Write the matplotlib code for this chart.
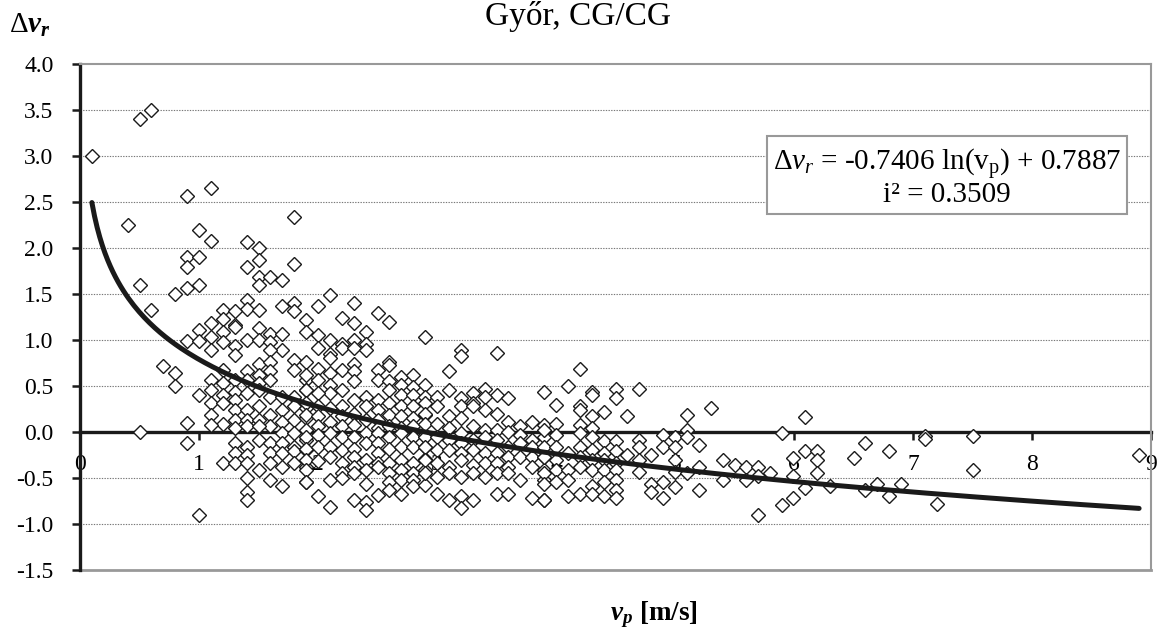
import numpy as np
import matplotlib
matplotlib.use("Agg")
import matplotlib.pyplot as plt

plt.rcParams['font.family'] = ['Liberation Serif', 'DejaVu Serif']
plt.rcParams['mathtext.fontset'] = 'custom'
plt.rcParams['mathtext.rm'] = 'Liberation Serif'
plt.rcParams['mathtext.it'] = 'Liberation Serif:italic'
plt.rcParams['mathtext.bf'] = 'Liberation Serif:bold'
plt.rcParams['mathtext.bfit'] = 'Liberation Serif:italic:bold'

# ---------------- data ----------------
vp_low = [0.10, 0.50, 0.60, 0.40, 0.90, 1.10, 1.80, 1.00, 1.10, 1.40,
          1.50, 1.50, 1.40, 0.90, 1.00, 0.90, 1.80, 0.50, 0.80, 0.90,
          1.00, 1.50, 1.60, 1.70, 1.50, 0.60, 1.40, 1.40, 1.50, 1.20,
          1.30, 1.70, 1.80, 1.80, 2.10, 2.00, 1.90, 1.10, 1.20, 1.30,
          0.50, 0.70, 0.80, 0.80, 1.00]
dvr_low = [3.00, 3.40, 3.50, 2.25, 2.56, 2.65, 2.34, 2.20, 2.08, 2.07,
           2.00, 1.87, 1.79, 1.90, 1.90, 1.79, 1.83, 1.60, 1.50, 1.56,
           1.60, 1.69, 1.69, 1.65, 1.60, 1.33, 1.44, 1.34, 1.33, 1.33,
           1.32, 1.37, 1.40, 1.32, 1.49, 1.37, 1.22, 1.18, 1.23, 1.16,
           0.00, 0.72, 0.64, 0.50, -0.90]

vp_a = [1.00, 1.20, 1.30, 1.50, 1.60, 1.70, 1.90,
        0.90, 1.00, 1.10, 1.20, 1.30, 1.40, 1.50, 1.60, 1.70, 1.60, 1.10, 1.30,
        1.80, 1.50, 1.60, 1.80, 1.40, 1.20, 1.50, 1.60,
        1.10, 1.20, 1.30, 1.40, 1.50, 1.60, 1.90, 1.00, 1.10, 1.20, 1.30, 1.40, 1.50, 1.60, 1.70, 1.80, 1.90,
        1.10, 1.20, 1.30, 1.30, 1.40, 1.50, 1.60, 1.70, 1.80, 1.90, 1.10, 1.20, 1.30, 1.40, 1.50, 1.60, 1.70, 1.80, 1.90,
        0.90, 1.10, 1.30, 1.40, 1.50, 1.70, 1.80, 1.90,
        0.90, 1.30, 1.40, 1.50, 1.60, 1.70, 1.80, 1.90, 1.30, 1.40, 1.60, 1.70, 1.80, 1.90,
        1.20, 1.30, 1.40, 1.50, 1.60, 1.70, 1.80, 1.90,
        1.40, 1.60, 1.70, 1.90, 1.40, 1.40]
dvr_a = [1.11, 1.09, 1.14, 1.13, 1.07, 1.07, 1.09,
         0.99, 0.99, 1.03, 0.98, 0.93, 1.00, 1.00, 0.98, 0.89, 0.89, 0.89, 0.84,
         0.78, 0.74, 0.76, 0.67, 0.66, 0.67, 0.62, 0.66,
         0.56, 0.53, 0.56, 0.56, 0.53, 0.56, 0.56, 0.40, 0.46, 0.40, 0.44, 0.42, 0.46, 0.38, 0.38, 0.38, 0.46,
         0.31, 0.31, 0.35, 0.24, 0.24, 0.28, 0.19, 0.24, 0.28, 0.26, 0.19, 0.09, 0.13, 0.13, 0.13, 0.06, 0.11, 0.13, 0.15,
         0.10, 0.08, 0.04, 0.06, 0.06, -0.01, -0.01, 0.02,
         -0.12, -0.12, -0.16, -0.09, -0.12, -0.12, -0.16, -0.09, -0.23, -0.25, -0.23, -0.23, -0.21, -0.20,
         -0.34, -0.34, -0.34, -0.41, -0.34, -0.38, -0.34, -0.38,
         -0.50, -0.52, -0.59, -0.54, -0.65, -0.74]

vp_b = [2.30, 2.50, 2.60, 2.20, 2.30, 2.40,
        2.00, 2.10, 2.20, 2.30, 2.40, 2.90, 2.00, 2.10, 2.20, 2.30, 2.40,
        1.90, 2.10, 2.00, 2.20, 2.30, 2.30, 2.50, 2.60, 2.60, 2.70, 2.80, 1.90, 2.10,
        2.00, 2.10, 2.20, 2.30, 2.50, 2.60, 2.70, 2.80, 2.90, 1.90, 2.10, 2.00, 2.30, 2.40, 2.50, 2.60, 2.70, 2.80, 2.90,
        1.90, 2.00, 2.10, 2.20, 2.40, 2.50, 2.60, 2.70, 2.80, 2.90, 1.90, 2.00, 2.10, 2.20, 2.30, 2.40, 2.50, 2.60, 2.70, 2.80, 2.90,
        2.00, 2.20, 2.30, 2.50, 2.60, 2.70, 2.80,
        1.90, 2.00, 2.10, 2.20, 2.30, 2.40, 2.50, 2.60, 2.70, 2.80, 2.90, 1.90, 2.00, 2.10, 2.20, 2.30, 2.40, 2.50, 2.60, 2.70, 2.80, 2.90, 2.50, 2.30,
        1.90, 2.10, 2.00, 2.20, 2.30, 2.40, 2.50, 2.60, 2.70, 2.80, 2.90, 1.90, 2.20, 2.30, 2.40, 2.50, 2.60, 2.70, 2.80, 2.90,
        1.90, 2.10, 2.20, 2.40, 2.60, 2.70, 2.80,
        2.00, 2.10, 2.30, 2.40, 2.40, 2.50, 2.60, 2.70, 2.80, 2.90]
dvr_b = [1.40, 1.29, 1.20, 1.24, 1.18, 1.09,
         1.05, 1.00, 0.96, 1.00, 0.96, 1.03, 0.91, 0.85, 0.91, 0.91, 0.89,
         0.76, 0.80, 0.69, 0.67, 0.74, 0.66, 0.67, 0.76, 0.73, 0.60, 0.62, 0.62, 0.64,
         0.56, 0.51, 0.46, 0.55, 0.56, 0.55, 0.51, 0.49, 0.51, 0.46, 0.42, 0.42, 0.35, 0.38, 0.35, 0.46, 0.40, 0.40, 0.38,
         0.31, 0.28, 0.26, 0.28, 0.28, 0.24, 0.31, 0.28, 0.28, 0.31, 0.19, 0.17, 0.11, 0.17, 0.20, 0.13, 0.13, 0.19, 0.17, 0.15, 0.19,
         0.06, 0.06, 0.08, 0.04, 0.06, 0.04, 0.06,
         -0.05, -0.03, -0.01, -0.05, -0.05, -0.01, -0.01, -0.05, -0.01, -0.05, -0.03, -0.18, -0.16, -0.16, -0.20, -0.18, -0.12, -0.12, -0.18, -0.16, -0.16, -0.16, -0.23, -0.27,
         -0.30, -0.27, -0.32, -0.34, -0.38, -0.30, -0.34, -0.34, -0.30, -0.34, -0.29, -0.41, -0.45, -0.45, -0.41, -0.38, -0.45, -0.41, -0.45, -0.41,
         -0.54, -0.52, -0.50, -0.56, -0.54, -0.52, -0.52,
         -0.70, -0.81, -0.74, -0.76, -0.85, -0.68, -0.63, -0.67, -0.59, -0.58]

vp_c = [3.20, 3.20, 3.50, 3.10,
        3.10, 3.30, 3.40, 3.50, 3.60, 3.90, 3.00, 3.20, 3.30, 3.40,
        3.00, 3.20, 3.30, 3.50, 2.90, 3.10, 3.20, 3.40, 3.60, 3.70, 3.80, 3.90,
        2.90, 3.00, 3.10, 3.20, 3.30, 3.40, 3.50, 3.60, 3.70, 3.80, 3.90,
        2.90, 3.00, 3.10, 3.20, 3.30, 3.40, 3.50, 3.60, 3.70, 3.80, 3.90,
        2.90, 3.00, 3.10, 3.20, 3.30, 3.40, 3.50, 3.60, 3.70, 3.80, 3.90,
        2.90, 3.00, 3.10, 3.20, 3.30, 3.40, 3.50, 3.60, 3.80, 3.90,
        2.90, 3.00, 3.10, 3.20, 3.30, 3.40, 3.50, 3.60, 3.70, 3.90,
        3.00, 3.10, 3.20, 3.30, 3.20, 3.50, 3.60, 3.80, 3.90]
dvr_c = [0.89, 0.83, 0.86, 0.66,
         0.46, 0.42, 0.47, 0.40, 0.37, 0.44, 0.38, 0.37, 0.31, 0.38,
         0.28, 0.28, 0.28, 0.20, 0.20, 0.17, 0.15, 0.24, 0.11, 0.06, 0.11, 0.08,
         0.09, 0.09, 0.04, -0.01, 0.06, 0.02, 0.02, 0.00, -0.03, -0.09, -0.05,
         -0.05, -0.05, -0.09, -0.12, -0.09, -0.05, -0.09, -0.16, -0.12, -0.16, -0.16,
         -0.16, -0.20, -0.20, -0.23, -0.20, -0.23, -0.23, -0.27, -0.27, -0.27, -0.27,
         -0.30, -0.34, -0.38, -0.30, -0.36, -0.34, -0.34, -0.38, -0.38, -0.41,
         -0.45, -0.49, -0.45, -0.49, -0.45, -0.49, -0.45, -0.45, -0.52, -0.52,
         -0.67, -0.74, -0.70, -0.74, -0.83, -0.67, -0.67, -0.72, -0.74]

vp_d = [4.20, 4.10, 4.30, 4.30, 4.50, 4.50, 4.70,
        4.00, 4.20, 4.20, 4.40, 4.30, 4.60,
        4.00, 4.20, 4.30, 3.90,
        4.00, 4.20, 4.30, 4.40, 4.50, 4.70, 4.90, 5.00,
        4.00, 4.10, 4.20, 4.30, 4.40, 4.50, 4.60, 4.70, 4.80, 4.90, 5.00,
        3.90, 4.00, 4.20, 4.30, 4.40, 4.50, 4.70, 5.00,
        3.90, 4.00, 4.10, 4.20, 4.30, 4.40, 4.50, 4.70, 5.00,
        3.90, 4.00, 4.10, 4.30, 4.40, 4.50, 4.80, 4.90,
        3.90, 4.10, 4.20, 4.30, 4.40, 4.50, 4.50, 4.90, 4.80]
dvr_d = [0.69, 0.50, 0.44, 0.40, 0.47, 0.37, 0.47,
         0.29, 0.28, 0.24, 0.22, 0.17, 0.17,
         0.09, 0.08, 0.04, 0.02,
         -0.03, -0.01, -0.05, -0.10, -0.10, -0.09, -0.03, -0.05,
         -0.16, -0.23, -0.16, -0.20, -0.23, -0.21, -0.25, -0.16, -0.25, -0.16, -0.16,
         -0.27, -0.30, -0.27, -0.30, -0.30, -0.34, -0.30, -0.30,
         -0.45, -0.41, -0.41, -0.38, -0.41, -0.41, -0.41, -0.43, -0.43,
         -0.56, -0.54, -0.52, -0.59, -0.54, -0.52, -0.56, -0.54,
         -0.74, -0.70, -0.67, -0.67, -0.70, -0.63, -0.72, -0.72, -0.65]

vp_e = [5.30, 5.10, 5.10, 5.20, 5.40, 5.50, 5.60, 5.70, 5.80, 5.70,
        5.60, 5.40, 5.20, 5.20, 5.70, 5.90, 5.99, 5.99, 6.09, 6.09,
        6.19, 6.19, 6.19, 5.90, 6.09, 5.99, 6.50, 6.30, 5.10, 5.10, 5.00,
        6.60, 6.80, 6.60, 6.70, 6.80, 6.90, 7.10, 7.10, 7.20, 7.50, 7.50, 8.90]
dvr_e = [0.26, 0.19, 0.02, -0.14, -0.30, -0.36, -0.38, -0.38, -0.45, -0.48,
         -0.52, -0.52, -0.38, -0.63, -0.90, -0.79, -0.72, -0.48, -0.61, -0.21,
         -0.21, -0.30, -0.45, -0.01, 0.16, -0.28, -0.28, -0.59, -0.05, -0.45, -0.60,
         -0.12, -0.21, -0.63, -0.56, -0.70, -0.56, -0.04, -0.08, -0.78, -0.04, -0.41, -0.25]

# logarithmic trend line (Excel fit shown in the chart)
trend_a = -0.7406
trend_b = 0.7887
trend_range = (0.1, 8.9)

y_ticks = [-1.5, -1.0, -0.5, 0.0, 0.5, 1.0, 1.5, 2.0, 2.5, 3.0, 3.5, 4.0]
x_ticks = [0, 1, 2, 3, 4, 5, 6, 7, 8, 9]

vp = np.array(vp_low + vp_a + vp_b + vp_c + vp_d + vp_e)
dvr = np.array(dvr_low + dvr_a + dvr_b + dvr_c + dvr_d + dvr_e)

# ---------------- figure ----------------
fig = plt.figure(figsize=(11.57, 6.32), dpi=100)
ax = fig.add_axes([80/1157, 1-570/632, (1151-80)/1157, (570-64)/632])
ax.set_xlim(0, 9)
ax.set_ylim(-1.5, 4.0)

for yv in y_ticks:
    if yv not in (0.0, 4.0, -1.5):
        ax.axhline(yv, color='#777777', lw=0.8, ls=(0, (1.2, 1.2)), zorder=0)

ax.plot(vp, dvr, ls='none', marker='D', ms=7.2, mfc='white', mec='#1a1a1a',
        mew=1.0, zorder=3)

xt = np.linspace(trend_range[0], trend_range[1], 400)
ax.plot(xt, trend_a*np.log(xt) + trend_b, color='#1a1a1a', lw=3.6, zorder=4,
        solid_capstyle='round')

# spines
ax.spines['bottom'].set_position(('data', 0))
ax.spines['bottom'].set_color('#1a1a1a')
ax.spines['bottom'].set_linewidth(2.4)
ax.spines['bottom'].set_zorder(2)
ax.spines['left'].set_color('#1a1a1a')
ax.spines['left'].set_linewidth(2.4)
for s in ('top', 'right'):
    ax.spines[s].set_color('#999999')
    ax.spines[s].set_linewidth(1.5)
ax.axhline(-1.5, color='#999999', lw=2.0, clip_on=False, zorder=1)

ax.set_yticks(y_ticks)
ax.set_yticklabels([f'{v:.1f}' for v in y_ticks])
ax.set_xticks(x_ticks)
ax.set_xticklabels([str(v) for v in x_ticks])
ax.tick_params(axis='y', direction='out', length=6, width=1.8, pad=13,
               labelsize=17, color='#1a1a1a')
ax.tick_params(axis='x', direction='out', length=6, width=1.8, pad=10,
               labelsize=17, color='#1a1a1a')

fig.text(578/1157, 1-17/632, 'Győr, CG/CG', ha='center', va='center', fontsize=24)
fig.text(30/1157, 1-25/632, r'$\Delta\mathbfit{v}_{\mathbfit{r}}$', ha='center',
         va='center', fontsize=21)
fig.text(654/1157, 1-615/632, r'$\mathbfit{v}_{\mathbfit{p}}$ [m/s]', ha='center',
         va='center', fontsize=19.5, fontweight='bold')

ax.text(947/1157, 1-178/632,
        '$\\Delta v_r$ = -0.7406 ln(v$_\\mathrm{p}$) + 0.7887\ni² = 0.3509',
        transform=fig.transFigure, ha='center', va='center', fontsize=21,
        multialignment='center', linespacing=1.0, zorder=6,
        bbox=dict(boxstyle='square,pad=0.2', fc='white', ec='#999999', lw=1.5))

fig.savefig('out.png', dpi=100)
